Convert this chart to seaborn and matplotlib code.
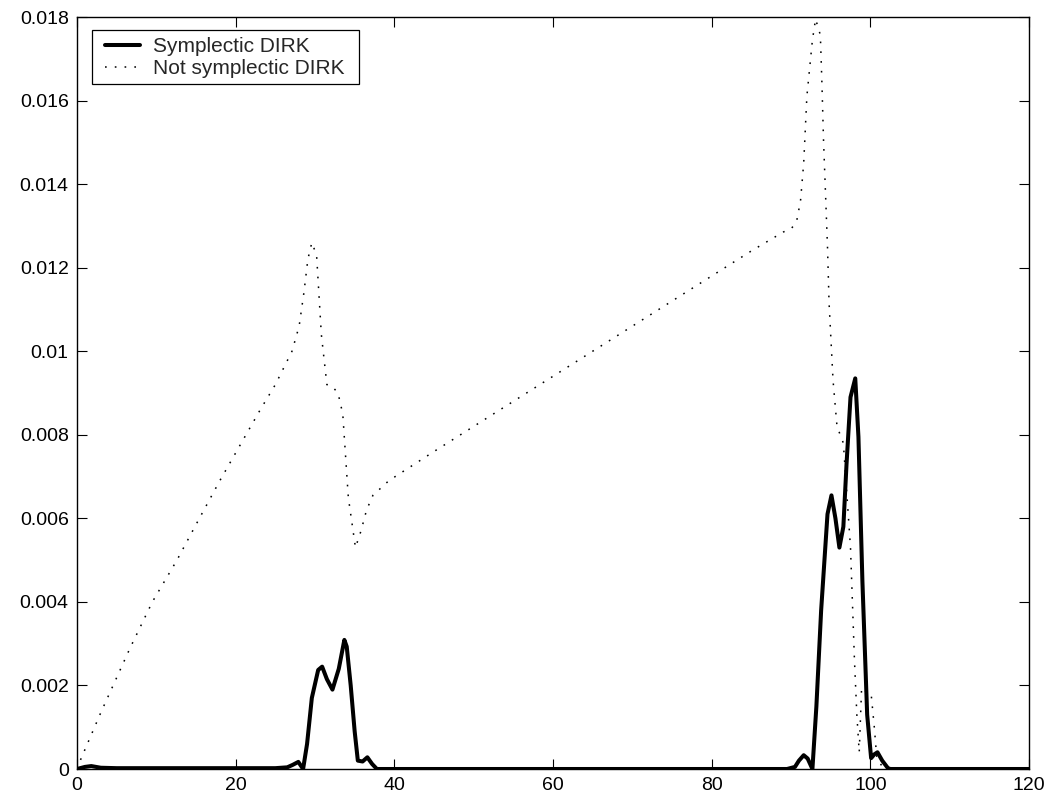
import matplotlib
matplotlib.use("Agg")
import matplotlib.pyplot as plt
from matplotlib.patches import Rectangle
import numpy as np
import pandas as pd
import seaborn as sns

# Error curves of the two DIRK integrators (values in units of 1e-3)
symp_x = [0, 1.0, 1.8, 3.0, 5, 10, 15, 20, 25, 26.5, 27.2, 27.9, 28.5, 29.0,
          29.6, 30.4, 30.9, 31.5, 32.2, 33.0, 33.7, 34.0, 34.5, 35.0, 35.4,
          36.0, 36.6, 37.2, 37.8, 45, 60, 75, 89.5, 90.5, 91.0, 91.6, 92.1,
          92.7, 93.2, 93.8, 94.6, 95.1, 95.6, 96.1, 96.6, 97.0, 97.5, 98.1,
          98.5, 99.0, 99.6, 100.1, 100.5, 100.9, 101.5, 102.3, 105, 110, 120]
symp_y = [0.0, 0.05, 0.07, 0.03, 0.02, 0.02, 0.02, 0.02, 0.02, 0.04, 0.10,
          0.17, 0.0, 0.6, 1.7, 2.37, 2.45, 2.15, 1.9, 2.4, 3.09, 2.93, 2.0,
          0.9, 0.2, 0.18, 0.28, 0.12, 0.0, 0.0, 0.0, 0.0, 0.0, 0.05, 0.2,
          0.33, 0.25, 0.0, 1.5, 3.8, 6.1, 6.55, 6.0, 5.3, 5.8, 7.3, 8.9, 9.35,
          7.95, 4.5, 1.3, 0.26, 0.35, 0.4, 0.2, 0.0, 0.0, 0.0, 0.0]

nsymp_x = [0, 0.4, 3.0, 6.7, 9.5, 12.6, 15, 18, 21, 23.1, 25, 27.1, 28.0,
           28.6, 29.1, 29.6, 30.2, 30.8, 31.5, 32.2, 32.9, 33.5, 34.2, 35.1,
           35.8, 36.5, 37.3, 39.3, 45, 55, 65, 75, 85, 89.0, 90.1, 90.7, 91.2,
           91.6, 92.0, 92.7, 93.1, 93.7, 93.9, 94.1, 94.6, 94.8, 95.3, 95.8,
           96.6, 97.5, 98.0, 98.3, 98.6, 98.9, 99.5, 100.1, 100.5, 100.8,
           101.5, 105, 120]
nsymp_y = [0.0, 0.2, 1.35, 2.9, 4.0, 5.0, 5.85, 6.9, 7.9, 8.6, 9.2, 10.0,
           10.6, 11.4, 12.2, 12.6, 12.3, 10.4, 9.2, 9.15, 9.0, 8.5, 6.5, 5.3,
           5.7, 6.2, 6.55, 6.9, 7.6, 8.8, 10.0, 11.2, 12.4, 12.85, 12.95, 13.1,
           13.6, 14.5, 16.1, 17.45, 17.95, 17.57, 16.4, 15.05, 12.5, 11.15,
           9.3, 8.2, 7.8, 5.3, 2.6, 1.3, 0.4, 1.95, 1.85, 1.8, 1.0, 0.3, 0.05,
           0.0, 0.0]

x_ticks = [0, 20, 40, 60, 80, 100, 120]
y_ticks = [0, 0.002, 0.004, 0.006, 0.008, 0.01, 0.012, 0.014, 0.016, 0.018]
y_tick_labels = ["0", "0.002", "0.004", "0.006", "0.008", "0.01", "0.012",
                 "0.014", "0.016", "0.018"]

sns.set_style("white")
plt.rcParams["font.family"] = ["Liberation Sans", "DejaVu Sans"]

df_symp = pd.DataFrame({"t": symp_x, "err": np.array(symp_y) * 1e-3})
df_nsymp = pd.DataFrame({"t": nsymp_x, "err": np.array(nsymp_y) * 1e-3})

fig = plt.figure(figsize=(10.52, 8.01), dpi=100)
ax = fig.add_axes([77 / 1052, 32 / 801, 952 / 1052, 752 / 801])

sns.lineplot(data=df_symp, x="t", y="err", ax=ax, color="black",
             linewidth=2.9, estimator=None, sort=False,
             label="Symplectic DIRK")
sns.lineplot(data=df_nsymp, x="t", y="err", ax=ax, color="black",
             linewidth=1.1, estimator=None, sort=False,
             linestyle=(0, (1.1, 5.3)), label="Not symplectic DIRK")

ax.set_xlim(0, 120)
ax.set_ylim(0, 0.018)
ax.set_xticks(x_ticks)
ax.set_xticklabels([str(v) for v in x_ticks])
ax.set_yticks(y_ticks)
ax.set_yticklabels(y_tick_labels)
ax.set_xlabel("")
ax.set_ylabel("")

for side in ["top", "right", "bottom", "left"]:
    ax.spines[side].set_visible(True)
    ax.spines[side].set_color("black")
    ax.spines[side].set_linewidth(1.0)

ax.tick_params(axis="both", which="both", direction="in", length=7,
               width=0.8, colors="black", labelsize=14, top=True, right=True,
               bottom=True, left=True, pad=6)

# Legend box with wide side margins, drawn as its own rectangle
ax.add_patch(Rectangle((0.0158, 0.9109), 0.2805, 0.0718,
                       transform=ax.transAxes, facecolor="white",
                       edgecolor="black", linewidth=0.9, zorder=5))
leg = ax.legend(loc="upper left", bbox_to_anchor=(0.0294, 0.973),
                borderaxespad=0, borderpad=0, frameon=False, fontsize=15,
                handlelength=1.7, handletextpad=0.6, labelspacing=0.15)
leg.set_zorder(6)

fig.savefig("out.png", dpi=100, facecolor="white")
